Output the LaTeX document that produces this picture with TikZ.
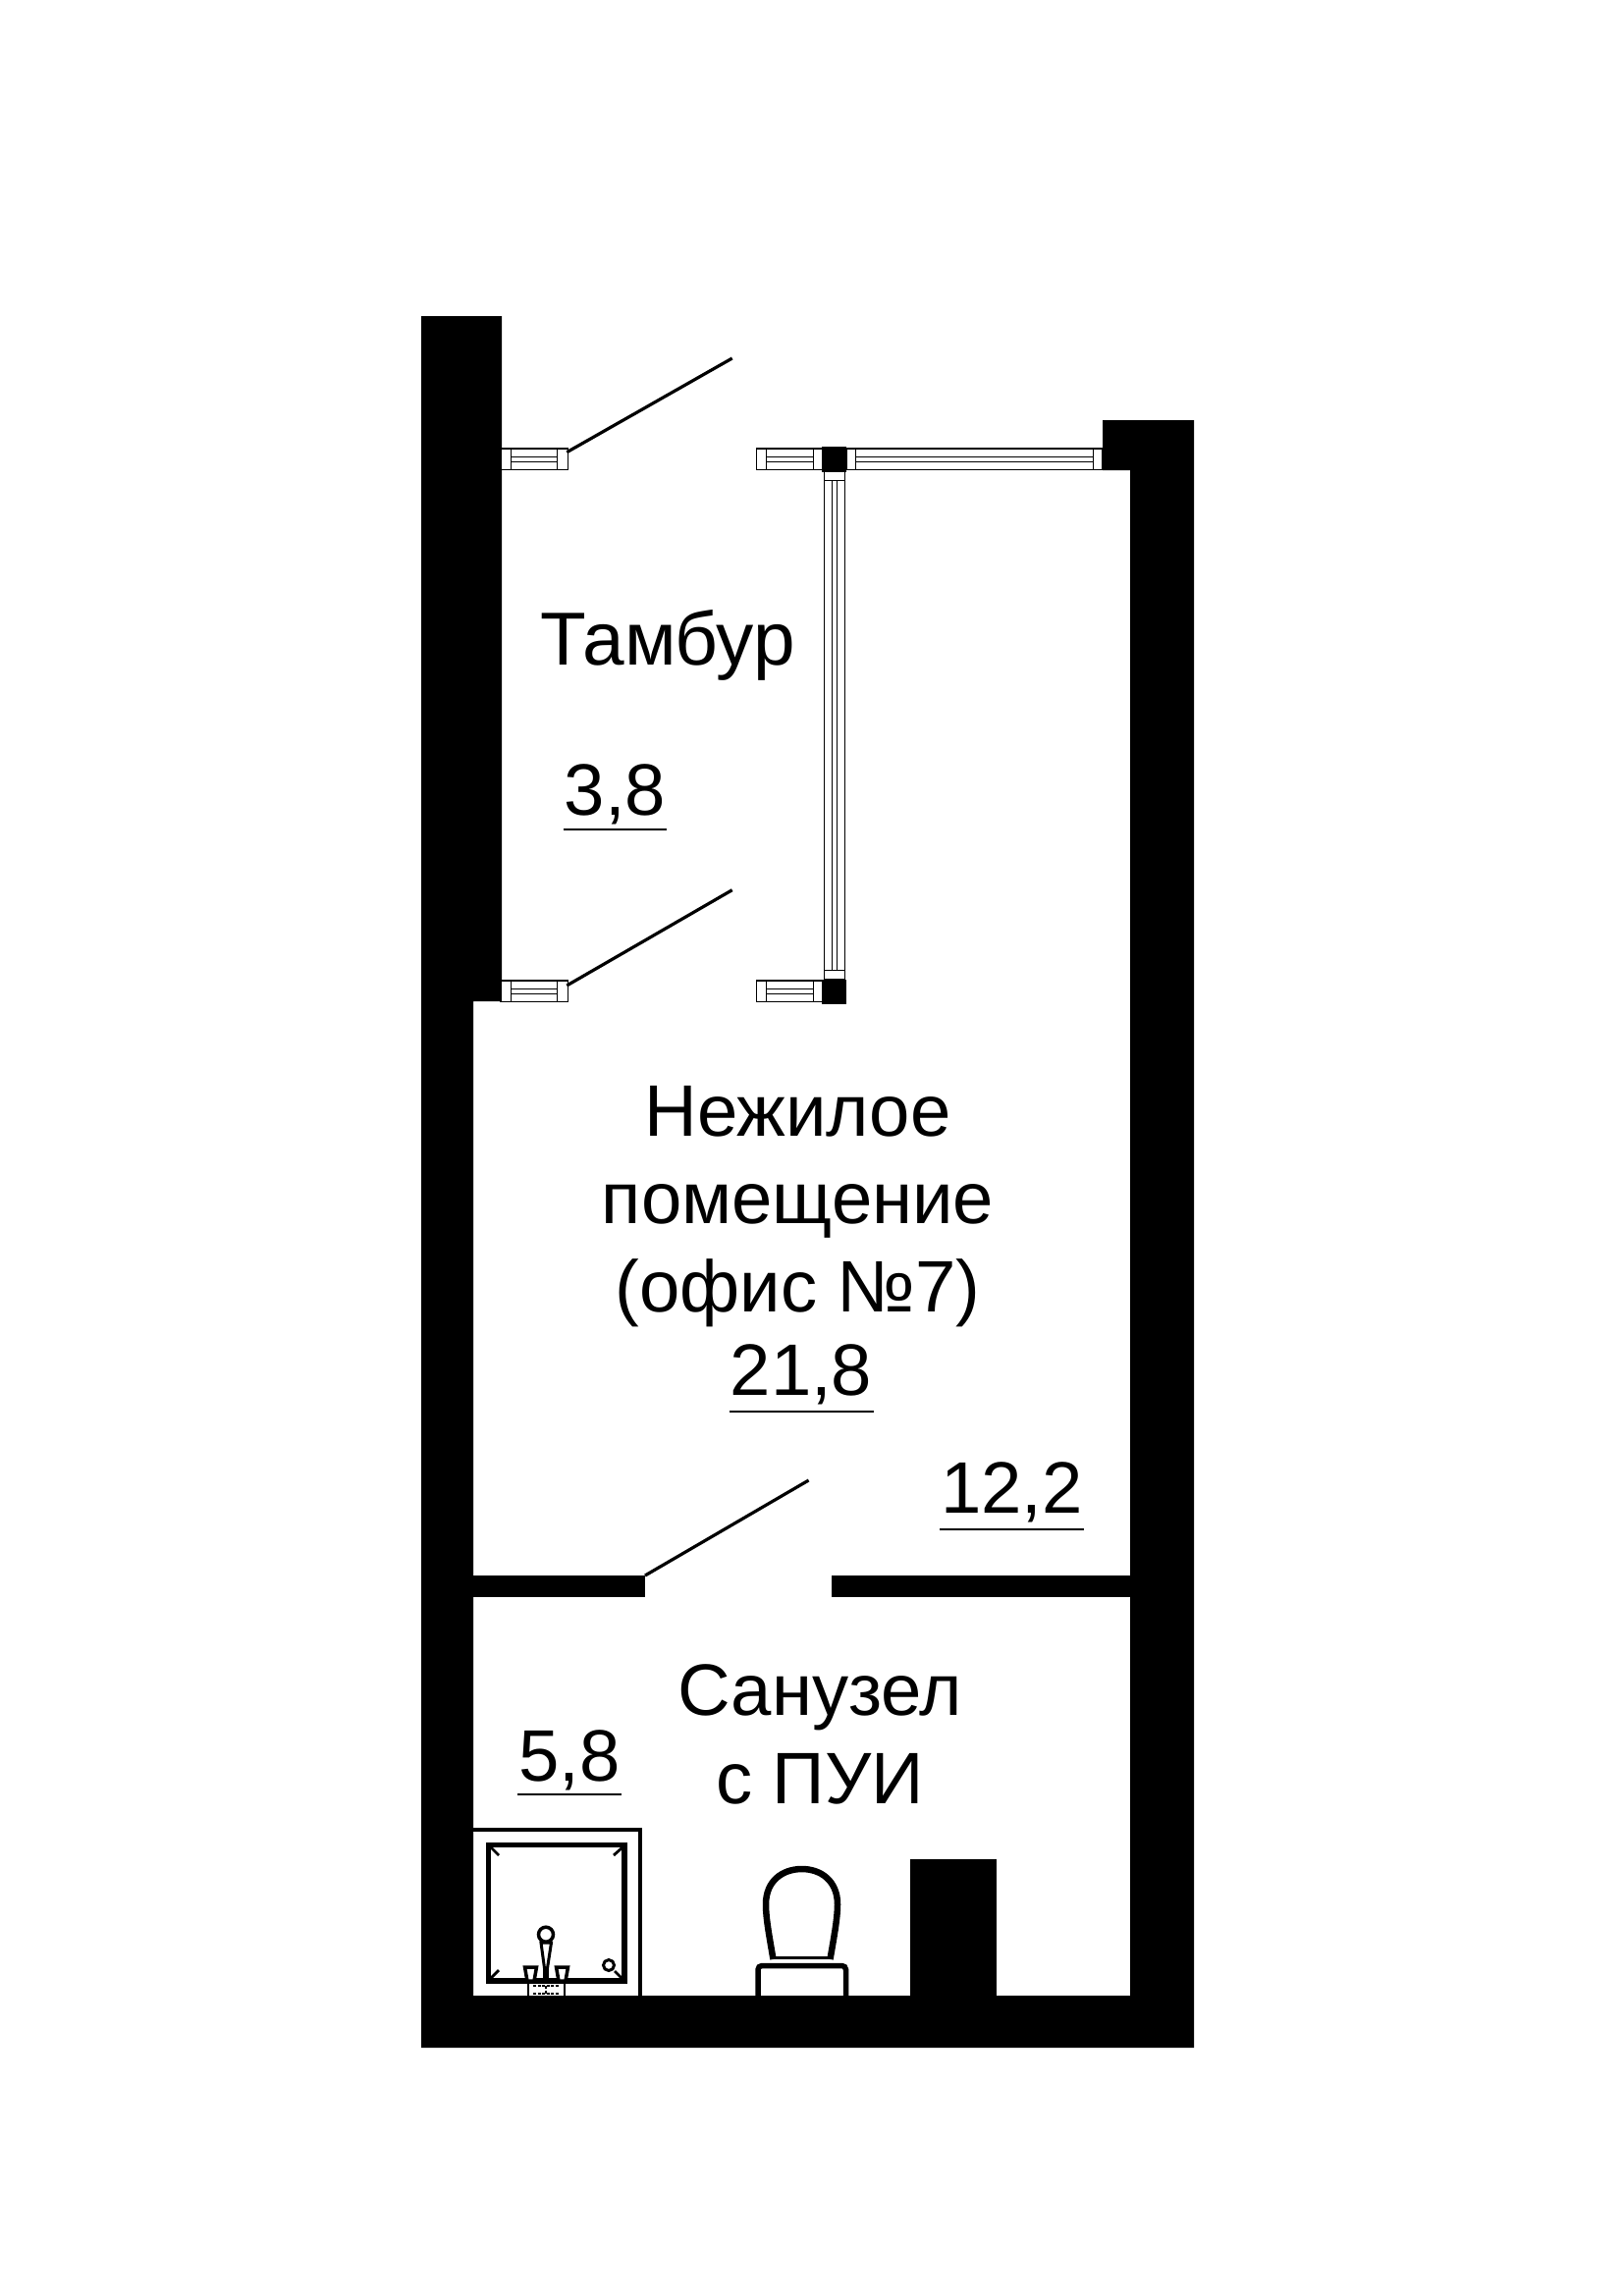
\documentclass[tikz,border=0pt]{standalone}
\usepackage{fontspec}
\setmainfont{Liberation Sans}
\usetikzlibrary{positioning}
\tikzset{
    wall/.style={fill=black,draw=none},
    frame/.style={draw=black,line width=1.5pt,fill=white},
    leaf/.style={draw=black,line width=3.2pt},
    roomname/.style={inner sep=0pt,align=center,font=\fontsize{74.3}{89.5}\selectfont},
    area/.style={inner xsep=1pt,inner ysep=0pt,minimum height=76pt,font=\fontsize{74.3}{89.5}\selectfont},
    thinline/.style={draw=black,line width=1.5pt},
    underline/.style={draw=black,line width=2.4pt},
    fixture/.style={draw=black,line width=5.5pt},
    detail/.style={draw=black,line width=2.8pt}
}
\begin{document}
\begin{tikzpicture}[x=1pt,y=-1pt]
    \useasboundingbox (0,0) rectangle (1653,2339);

    % Outer walls
    \fill[wall] (429,322) -- (511,322) -- (511,1020) -- (482,1020) -- (482,2033)
        -- (1151,2033) -- (1151,479) -- (1123,479) -- (1123,428) -- (1216,428)
        -- (1216,2086) -- (429,2086) -- cycle;

    % Partition and shaft
    \fill[wall] (482,1605) rectangle (657,1627);
    \fill[wall] (847,1605) rectangle (1151,1627);
    \fill[wall] (927,1894) rectangle (1015,2033);

    % Horizontal window blocks
    \foreach \y in {457,999} {
        \foreach \a/\b/\c/\d in {510/520.3/567.3/578.7,770.3/780.3/828.5/837.3} {
            \draw[frame] (\a,\y) rectangle (\d,\y+21.5);
            \draw[thinline] (\b,\y) -- (\b,\y+21.5);
            \draw[thinline] (\c,\y) -- (\c,\y+21.5);
            \draw[thinline] (\b,\y+8.3) -- (\c,\y+8.3);
            \draw[thinline] (\b,\y+13.3) -- (\c,\y+13.3);
        }
    }
    \draw[frame] (862,457) rectangle (1123,478.5);
    \draw[thinline] (871.3,457) -- (871.3,478.5);
    \draw[thinline] (1113.3,457) -- (1113.3,478.5);
    \draw[thinline] (871.3,465.3) -- (1113.3,465.3);
    \draw[thinline] (871.3,470.3) -- (1113.3,470.3);

    % Vertical window
    \draw[frame] (839.3,480) rectangle (860.7,998);
    \draw[thinline] (839.3,489.3) -- (860.7,489.3);
    \draw[thinline] (839.3,988.3) -- (860.7,988.3);
    \draw[thinline] (847.3,489.3) -- (847.3,988.3);
    \draw[thinline] (852.3,489.3) -- (852.3,988.3);
    \fill[wall] (837.3,455) rectangle (862,480.7);
    \fill[wall] (837.3,998) rectangle (862,1022.7);

    % Door leaves
    \draw[leaf] (577.3,460.7) -- (745.7,365);
    \draw[leaf] (577.3,1004) -- (745.7,906.7);
    \draw[leaf] (657,1605) -- (823.6,1508);

    % Shower
    \draw[fixture,line width=4pt] (482,1864) -- (652,1864) -- (652,2033);
    \draw[fixture] (497.5,1879.5) rectangle (635.8,2018.2);
    \foreach \a/\b/\c/\d in {500/1882/508/1890,634/1882/625/1890,500/2015/508/2007,626/2008/633/2015} {
        \draw[detail] (\a,\b) -- (\c,\d);
    }
    \draw[detail,line width=3pt] (620,2002) circle (5.5);
    \draw[detail,line width=3.5pt] (556,1970.7) circle (7.5);
    \draw[detail,line width=3pt,fill=white] (551,1979) -- (561.5,1979) -- (557.5,2005) -- (554.5,2005) -- cycle;
    \draw[fixture] (556,2004) -- (556,2019);
    \foreach \x in {540.5,572.5} {
        \draw[detail,line width=3.5pt,fill=white] (\x-6,2004) -- (\x+6,2004) -- (\x+3.5,2018) -- (\x-3.5,2018) -- cycle;
    }
    \draw[detail,line width=2.4pt] (538,2021) -- (538,2033);
    \draw[detail,line width=2.4pt] (575,2021) -- (575,2033);
    \draw[detail,line width=2.4pt,dash pattern=on 3pt off 1.5pt] (543,2023) -- (570,2023);
    \draw[detail,line width=2.4pt,dash pattern=on 3pt off 1.5pt] (543,2031) -- (570,2031);
    \draw[detail,line width=2.4pt,dash pattern=on 3pt off 1.5pt] (556,2023) -- (556,2031);

    % Toilet
    \draw[fixture,rounded corners=4pt] (772,2033) -- (772,2002.5) -- (861.5,2002.5) -- (861.5,2033);
    \draw[fixture,line width=6.5pt] (787.5,1996) .. controls (784,1975) and (780,1955) .. (780,1940)
        .. controls (780,1916) and (797,1904) .. (816.7,1904)
        .. controls (836,1904) and (853,1916) .. (853,1940)
        .. controls (853,1955) and (849,1975) .. (845.5,1996);
    \draw[detail] (787,1994.5) -- (846,1994.5);

    % Room names
    \node[roomname,font=\fontsize{76.5}{89.5}\selectfont] (tambur) at (680,657.5) {Тамбур};
    \node[roomname] (office) at (812.5,1229) {Нежилое\\помещение\\(офис №7)};
    \node[roomname] (bath) at (835,1767) {Санузел\\с ПУИ};

    % Areas
    \node[area,minimum height=70pt] (areaTambur) at (626.5,809.5) {3,8};
    \node[area] (areaOffice) at (816,1400) {21,8};
    \node[area] (areaRoom) at (1030.5,1520) {12,2};
    \node[area,minimum height=70pt] (areaBath) at (580,1793) {5,8};
    \foreach \n in {areaTambur,areaOffice,areaRoom,areaBath} {
        \draw[underline] (\n.south west) -- (\n.south east);
    }
\end{tikzpicture}
\end{document}
